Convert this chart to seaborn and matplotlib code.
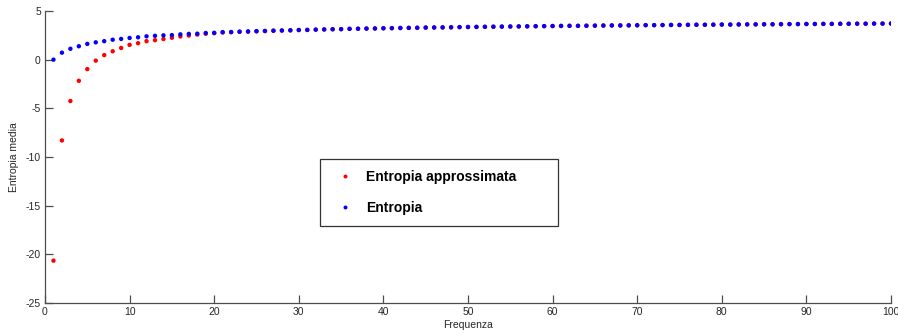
import numpy as np
import pandas as pd
import matplotlib
matplotlib.use("Agg")
import matplotlib.pyplot as plt
import seaborn as sns

frequenza = list(range(1, 101))

entropia = [
    0.00, 0.72, 1.12, 1.38, 1.62, 1.78, 1.90, 2.05, 2.13, 2.23,
    2.30, 2.40, 2.45, 2.50, 2.52, 2.60, 2.65, 2.67, 2.74, 2.76,
    2.83, 2.84, 2.88, 2.90, 2.93, 2.95, 2.98, 3.00, 3.02, 3.05,
    3.06, 3.09, 3.11, 3.13, 3.14, 3.17, 3.18, 3.20, 3.21, 3.23,
    3.24, 3.26, 3.27, 3.28, 3.30, 3.31, 3.32, 3.33, 3.35, 3.36,
    3.37, 3.38, 3.39, 3.40, 3.41, 3.42, 3.43, 3.44, 3.45, 3.46,
    3.47, 3.48, 3.48, 3.49, 3.50, 3.51, 3.52, 3.52, 3.53, 3.54,
    3.55, 3.55, 3.56, 3.57, 3.57, 3.58, 3.59, 3.59, 3.60, 3.61,
    3.61, 3.62, 3.63, 3.63, 3.64, 3.64, 3.65, 3.66, 3.66, 3.67,
    3.67, 3.68, 3.68, 3.69, 3.69, 3.70, 3.70, 3.71, 3.71, 3.72,
]

entropia_approssimata = [
    -20.65, -8.30, -4.25, -2.17, -0.97, -0.10, 0.47, 0.86, 1.20, 1.52,
    1.69, 1.90, 2.00, 2.12, 2.25, 2.38, 2.48, 2.58, 2.66, 2.72,
    2.79, 2.82, 2.86, 2.88, 2.91, 2.94, 2.97, 2.99, 3.01, 3.04,
    3.05, 3.08, 3.10, 3.12, 3.13, 3.16, 3.17, 3.19, 3.20, 3.22,
    3.23, 3.25, 3.26, 3.27, 3.29, 3.30, 3.31, 3.32, 3.34, 3.35,
    3.36, 3.37, 3.38, 3.39, 3.40, 3.41, 3.42, 3.43, 3.44, 3.45,
    3.46, 3.47, 3.47, 3.48, 3.49, 3.50, 3.51, 3.51, 3.52, 3.53,
    3.54, 3.54, 3.55, 3.56, 3.56, 3.57, 3.58, 3.58, 3.59, 3.60,
    3.60, 3.61, 3.62, 3.62, 3.63, 3.63, 3.64, 3.65, 3.65, 3.66,
    3.66, 3.67, 3.67, 3.68, 3.68, 3.69, 3.69, 3.70, 3.70, 3.71,
]

series_names = ["Entropia approssimata", "Entropia"]
x_ticks = [0, 10, 20, 30, 40, 50, 60, 70, 80, 90, 100]
y_ticks = [-25, -20, -15, -10, -5, 0, 5]

df = pd.DataFrame({
    "Frequenza": frequenza * 2,
    "Entropia media": entropia_approssimata + entropia,
    "serie": [series_names[0]] * len(frequenza) + [series_names[1]] * len(frequenza),
})

sns.set_theme(style="white")
plt.rcParams["font.family"] = ["Liberation Sans", "DejaVu Sans"]
plt.rcParams["axes.unicode_minus"] = False

fig = plt.figure(figsize=(8.98, 3.36), dpi=100)
ax = fig.add_axes([45 / 898, 1 - 303 / 336, 846 / 898, 292 / 336])

sns.scatterplot(
    data=df, x="Frequenza", y="Entropia media", hue="serie",
    hue_order=series_names, palette=["#ff0000", "#0000ff"],
    s=10, marker="o", linewidth=0, ax=ax,
)

ax.set_xlim(0, 100)
ax.set_ylim(-25, 5)
ax.set_xticks(x_ticks)
ax.set_yticks(y_ticks)
for s in ["top", "right"]:
    ax.spines[s].set_visible(False)
for s in ["left", "bottom"]:
    ax.spines[s].set_color("#4d4d4d")
    ax.spines[s].set_linewidth(0.9)
ax.tick_params(direction="in", length=6, width=0.9, color="#4d4d4d",
               labelsize=7.5, labelcolor="#262626", pad=3,
               bottom=True, left=True)
ax.set_xlabel("Frequenza", fontsize=7.5, color="#262626", labelpad=2)
ax.set_ylabel("Entropia media", fontsize=7.5, color="#262626", labelpad=5)

leg = ax.legend(
    loc="upper left", bbox_to_anchor=(0.325, 0.493, 0.281, 0.0), mode="expand",
    borderaxespad=0.0,
    frameon=True, fancybox=False, shadow=False, borderpad=0.8,
    labelspacing=1.2, handletextpad=0.5, handlelength=2.0,
    prop={"weight": "bold", "size": 10}, markerscale=0.9,
)
for t in leg.get_texts():
    t.set_color("black")
leg.get_frame().set_edgecolor("#333333")
leg.get_frame().set_linewidth(0.9)
leg.get_frame().set_facecolor("white")
leg.get_frame().set_alpha(1)

fig.savefig("out.png", dpi=100)
